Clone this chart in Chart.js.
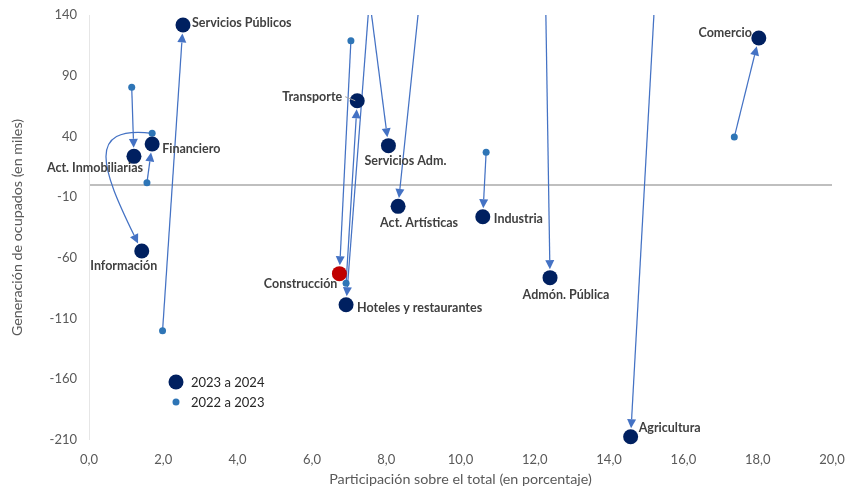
<!DOCTYPE html>
<html lang="es">
<head>
<meta charset="utf-8">
<title>Generación de ocupados por rama de actividad</title>
<script src="https://cdn.jsdelivr.net/npm/chart.js@4.4.1/dist/chart.umd.min.js"></script>
<style>
  html, body { margin: 0; padding: 0; background: #ffffff; }
  #wrap { width: 847px; height: 491px; }
</style>
</head>
<body>
<div id="wrap"><canvas id="chart" width="847" height="491"></canvas></div>
<script>
// Ramas de actividad
const sectors = [
  'Agricultura', 'Comercio', 'Industria', 'Construcción', 'Transporte',
  'Hoteles y restaurantes', 'Admón. Pública', 'Act. Artísticas', 'Servicios Adm.',
  'Servicios Públicos', 'Financiero', 'Act. Inmobiliarias', 'Información'
];

// 2023 a 2024: participación (%) y generación de ocupados (miles)
const share2324 = [14.58, 18.03, 10.60, 6.74, 7.22, 6.92, 12.41, 8.32, 8.06, 2.53, 1.70, 1.21, 1.42];
const jobs2324  = [-207.3, 121.0, -26.1, -73.0, 69.4, -98.6, -76.3, -17.6, 32.4, 131.8, 33.8, 23.6, -54.4];

// 2022 a 2023: participación (%) y generación de ocupados (miles)
const share2223 = [15.35, 17.37, 10.69, 7.05, 6.92, 7.64, 12.28, 9.01, 7.48, 1.98, 1.56, 1.15, 1.70];
const jobs2223  = [220.0, 39.5, 26.9, 118.8, -81.0, 190.0, 175.0, 185.0, 170.0, -120.0, 1.9, 80.4, 42.6];

// Ejes
const xTicks = [0, 2, 4, 6, 8, 10, 12, 14, 16, 18, 20];
const yTicks = [-210, -160, -110, -60, -10, 40, 90, 140];
const highlighted = 'Construcción';

// Estilos
const NAVY = '#002060';
const RED = '#C00000';
const LIGHT = '#2E75B6';
const ARROW = '#4472C4';
const LABEL = '#404040';
const AXIS_TEXT = '#595959';
const R_BIG = 7.5;
const R_SMALL = 3.5;
const FONT = 'Lato, "Open Sans", sans-serif';

// Ubicación de cada etiqueta respecto a su punto (px)
const labelPlacement = {
  'Agricultura':            { dx: 8,   dy: -9, align: 'left' },
  'Comercio':               { dx: -7,  dy: -5, align: 'right' },
  'Industria':              { dx: 11,  dy: 2,  align: 'left' },
  'Construcción':           { dx: -2,  dy: 10, align: 'right' },
  'Transporte':             { dx: -15, dy: -4, align: 'right', leader: true },
  'Hoteles y restaurantes': { dx: 11,  dy: 3,  align: 'left' },
  'Admón. Pública':         { dx: 16,  dy: 17, align: 'center' },
  'Act. Artísticas':        { dx: 21,  dy: 17, align: 'center' },
  'Servicios Adm.':         { dx: 17,  dy: 15, align: 'center' },
  'Servicios Públicos':     { dx: 9,   dy: -2, align: 'left' },
  'Financiero':             { dx: 10,  dy: 5,  align: 'left' },
  'Act. Inmobiliarias':     { dx: -39, dy: 12, align: 'center' },
  'Información':            { dx: -18, dy: 15, align: 'center' }
};

// Conector curvo (puntos de control relativos al origen y a la punta, px)
const curvedConnectors = {
  'Información': { c1: [-67, -8], c2: [-36, -74] }
};

const pointsFor = (xs, ys) => xs.map((v, i) => ({ x: v, y: ys[i] }));

function arrowHead(ctx, tipX, tipY, ux, uy) {
  const len = 9, half = 4.5;
  const bx = tipX - ux * len, by = tipY - uy * len;
  ctx.beginPath();
  ctx.moveTo(tipX, tipY);
  ctx.lineTo(bx - uy * half, by + ux * half);
  ctx.lineTo(bx + uy * half, by - ux * half);
  ctx.closePath();
  ctx.fill();
  return [bx, by];
}

const arrowPlugin = {
  id: 'shiftArrows',
  beforeDatasetsDraw(chart) {
    const { ctx, chartArea: a, scales: { x, y } } = chart;
    ctx.save();
    ctx.beginPath();
    ctx.rect(a.left, a.top, a.right - a.left, a.bottom - a.top);
    ctx.clip();
    ctx.strokeStyle = ARROW;
    ctx.fillStyle = ARROW;
    ctx.lineWidth = 1.25;
    sectors.forEach((name, i) => {
      const x0 = x.getPixelForValue(share2223[i]);
      const y0 = y.getPixelForValue(jobs2223[i]);
      const x1 = x.getPixelForValue(share2324[i]);
      const y1 = y.getPixelForValue(jobs2324[i]);
      const curve = curvedConnectors[name];
      if (curve) {
        // tangent at the end follows the second control point
        let ex = -curve.c2[0], ey = -curve.c2[1];
        const el = Math.hypot(ex, ey); ex /= el; ey /= el;
        const tipX = x1 - ex * (R_BIG + 1), tipY = y1 - ey * (R_BIG + 1);
        const [bx, by] = arrowHead(ctx, tipX, tipY, ex, ey);
        ctx.beginPath();
        ctx.moveTo(x0, y0);
        ctx.bezierCurveTo(x0 + curve.c1[0], y0 + curve.c1[1],
                          tipX + curve.c2[0], tipY + curve.c2[1], bx, by);
        ctx.stroke();
      } else {
        const dx = x1 - x0, dy = y1 - y0, len = Math.hypot(dx, dy);
        const ux = dx / len, uy = dy / len;
        const tipX = x1 - ux * (R_BIG + 1), tipY = y1 - uy * (R_BIG + 1);
        const [bx, by] = arrowHead(ctx, tipX, tipY, ux, uy);
        ctx.beginPath();
        ctx.moveTo(x0, y0);
        ctx.lineTo(bx, by);
        ctx.stroke();
      }
    });
    ctx.restore();
  }
};

const labelPlugin = {
  id: 'sectorLabels',
  afterDatasetsDraw(chart) {
    const { ctx, scales: { x, y } } = chart;
    ctx.save();
    ctx.font = 'bold 12.5px ' + FONT;
    ctx.fillStyle = LABEL;
    ctx.textBaseline = 'middle';
    sectors.forEach((name, i) => {
      const p = labelPlacement[name];
      const px = x.getPixelForValue(share2324[i]);
      const py = y.getPixelForValue(jobs2324[i]);
      ctx.textAlign = p.align;
      ctx.fillText(name, px + p.dx, py + p.dy);
      if (p.leader) {
        ctx.save();
        ctx.strokeStyle = '#A6A6A6';
        ctx.lineWidth = 1;
        ctx.beginPath();
        ctx.moveTo(px + p.dx + 3, py + p.dy);
        ctx.lineTo(px - 2, py);
        ctx.stroke();
        ctx.restore();
      }
    });
    ctx.restore();
  }
};

const legendPlugin = {
  id: 'innerLegend',
  afterDraw(chart) {
    const { ctx, chartArea: a } = chart;
    const items = chart.data.datasets.map(d => ({
      text: d.label, r: d.pointRadius, color: d.legendColor
    }));
    ctx.save();
    ctx.font = '13px ' + FONT;
    ctx.textBaseline = 'middle';
    ctx.textAlign = 'left';
    items.forEach((it, k) => {
      const cx = a.left + 87, cy = a.bottom - 58 + k * 20;
      ctx.fillStyle = it.color;
      ctx.beginPath();
      ctx.arc(cx, cy, it.r, 0, Math.PI * 2);
      ctx.fill();
      ctx.fillStyle = '#262626';
      ctx.fillText(it.text, cx + 15, cy + 1);
    });
    ctx.restore();
  }
};

new Chart(document.getElementById('chart'), {
  type: 'scatter',
  data: {
    datasets: [
      {
        label: '2023 a 2024',
        data: pointsFor(share2324, jobs2324),
        pointRadius: R_BIG,
        pointBorderWidth: 0,
        pointBackgroundColor: sectors.map(s => s === highlighted ? RED : NAVY),
        legendColor: NAVY,
        clip: false
      },
      {
        label: '2022 a 2023',
        data: pointsFor(share2223, jobs2223),
        pointRadius: R_SMALL,
        pointBorderWidth: 0,
        pointBackgroundColor: LIGHT,
        legendColor: LIGHT,
        clip: false
      }
    ]
  },
  options: {
    responsive: false,
    animation: false,
    events: [],
    layout: { padding: { top: 15, right: 15, left: 0, bottom: 0 } },
    plugins: {
      legend: { display: false },
      tooltip: { enabled: false }
    },
    scales: {
      x: {
        type: 'linear',
        min: xTicks[0],
        max: xTicks[xTicks.length - 1],
        afterBuildTicks: s => { s.ticks = xTicks.map(v => ({ value: v })); },
        afterFit: s => {
          s.height = 51;
          s.paddingLeft = 0;
          s.paddingRight = 0;
        },
        border: { display: false },
        grid: { drawTicks: false, color: 'rgba(0,0,0,0)' },
        ticks: {
          padding: 12,
          color: AXIS_TEXT,
          font: { family: FONT, size: 13 },
          callback: v => v.toFixed(1).replace('.', ',')
        },
        title: {
          display: true,
          text: 'Participación sobre el total (en porcentaje)',
          color: AXIS_TEXT,
          font: { family: FONT, size: 14.3 },
          padding: { top: 0, bottom: 3 }
        }
      },
      y: {
        type: 'linear',
        min: yTicks[0],
        max: yTicks[yTicks.length - 1],
        afterBuildTicks: s => {
          s.ticks = yTicks.map(v => ({ value: v }));
          s.ticks.push({ value: 0 });
        },
        afterFit: s => {
          s.width = 89;
          s.paddingTop = 0;
          s.paddingBottom = 0;
        },
        border: { display: true, color: '#E6E6E6', width: 1 },
        grid: {
          drawTicks: false,
          color: c => (c.tick && c.tick.value === 0 ? '#BFBFBF' : 'rgba(0,0,0,0)'),
          lineWidth: c => (c.tick && c.tick.value === 0 ? 2 : 0)
        },
        ticks: {
          padding: 12,
          color: AXIS_TEXT,
          font: { family: FONT, size: 13 },
          callback: v => (v === 0 ? '' : String(v))
        },
        title: {
          display: true,
          text: 'Generación de ocupados (en miles)',
          color: AXIS_TEXT,
          font: { family: FONT, size: 14.3 },
          padding: { top: 9, bottom: 0 }
        }
      }
    }
  },
  plugins: [arrowPlugin, labelPlugin, legendPlugin]
});
</script>
</body>
</html>
